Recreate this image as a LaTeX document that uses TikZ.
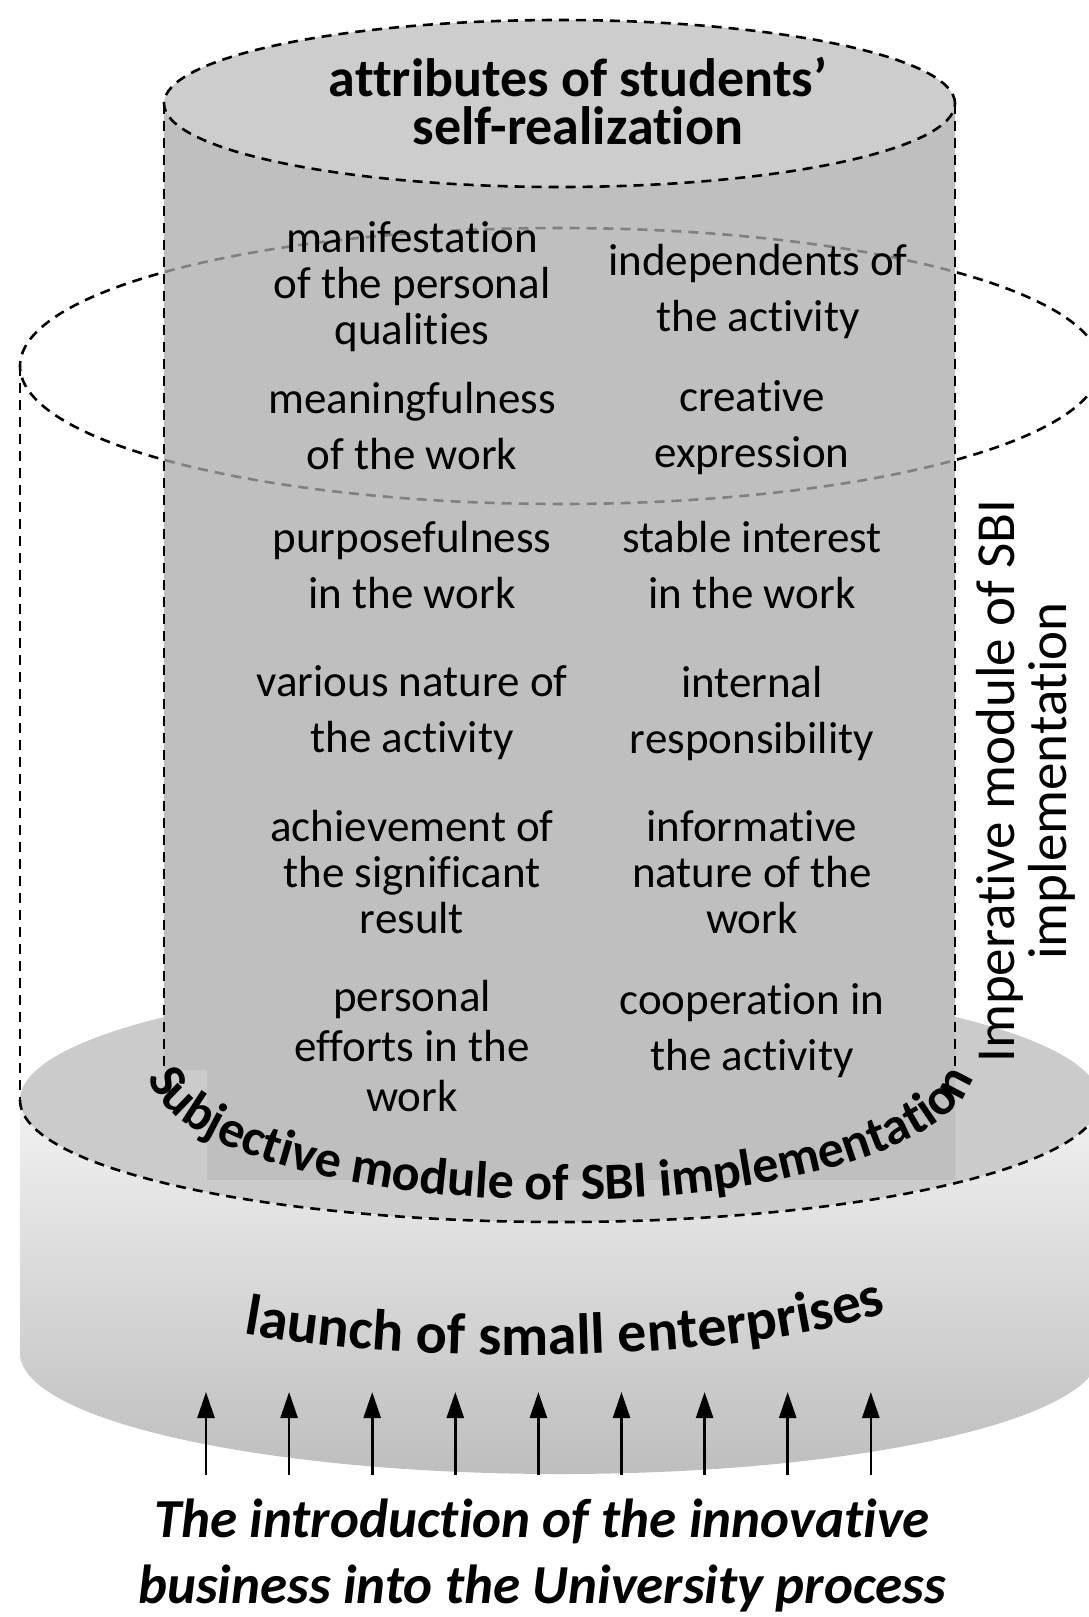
\documentclass[tikz,border=0pt]{standalone}
\usepackage{fontspec}
\setmainfont{Carlito}[Ligatures={NoCommon,NoContextual}]
\usetikzlibrary{arrows.meta,decorations.text}

\definecolor{bodygray}{HTML}{BFBFBF}
\definecolor{capgray}{HTML}{CDCDCD}
\definecolor{facegray}{HTML}{CBCBCB}
\definecolor{sidetop}{HTML}{F2F2F2}
\definecolor{sidebot}{HTML}{BEBEBE}

\tikzset{
  rim/.style={dash pattern=on 10pt off 7pt, line width=2.6pt},
  item/.style={align=center, inner sep=0pt, font=\fontsize{45}{46}\selectfont},
  pair/.style={item, font=\fontsize{45}{56}\selectfont},
  flow/.style={line width=2.6pt, -{Triangle[length=26pt,width=17pt]}}
}

\begin{document}
\begin{tikzpicture}[x=1pt,y=1pt]
  \useasboundingbox (0,0) rectangle (1089,-1617);
  \clip (0,0) rectangle (1089,-1617);

  % base disc
  \fill[facegray] (560,-1100) ellipse[x radius=540, y radius=122];
  \shade[top color=sidetop, bottom color=sidebot]
    (20,-1100) -- (20,-1353) arc[start angle=180, end angle=360, x radius=540, y radius=121]
    -- (1100,-1100) arc[start angle=360, end angle=180, x radius=540, y radius=122] -- cycle;

  % outer cylinder
  \draw[rim] (20,-366) -- (20,-1100);
  \draw[rim] (560,-366) ellipse[x radius=540, y radius=138];

  % inner cylinder
  \fill[bodygray] (164,-103.5) -- (955,-103.5) -- (955,-1180) -- (207,-1180)
    -- (207,-1070) -- (164,-1070) -- cycle;
  \begin{scope}
    \clip (164,-103.5) rectangle (955,-1070);
    \draw[rim, black!50] (560,-366) ellipse[x radius=540, y radius=138];
  \end{scope}
  \draw[rim] (20,-1100) arc[start angle=180, end angle=360, x radius=540, y radius=122];
  \draw[rim, fill=capgray] (559.5,-103.5) ellipse[x radius=395.5, y radius=83.5];
  \draw[rim] (164,-103.5) -- (164,-1070);
  \draw[rim] (955,-103.5) -- (955,-1070);

  % curved labels
  \path[decorate, decoration={text along path, text align=center,
    text={|\fontsize{52}{52}\selectfont\bfseries|Subjective module of SBI implementation}}]
    (148,-1068) arc[start angle=180, end angle=360, x radius=413, y radius=132];
  \path[decorate, decoration={text along path, text align=center,
    text={|\fontsize{58}{58}\selectfont\bfseries|launch of small enterprises}}]
    (522,-1268) ++(222:425 and 87) arc[start angle=222, end angle=340, x radius=425, y radius=87];

  \node[align=center, font=\fontsize{54}{48.5}\selectfont\bfseries] (title) at (578,-101)
    {attributes of students’\\self-realization};

  \node[item] (manif) at (412,-287) {manifestation\\of the personal\\qualities};
  \node[pair] (indep) at (758,-291) {independents of\\the activity};
  \node[pair] (meaning) at (412,-426) {meaningfulness\\of the work};
  \node[pair] (creative) at (752,-428) {creative\\expression};
  \node[pair] (purpose) at (412,-565) {purposefulness\\in the work};
  \node[pair] (interest) at (752,-565) {stable interest\\in the work};
  \node[pair] (various) at (412,-713) {various nature of\\the activity};
  \node[pair] (respons) at (752,-713) {internal\\responsibility};
  \node[item] (achieve) at (412,-872) {achievement of\\the significant\\result};
  \node[item] (inform) at (752,-872) {informative\\nature of the\\work};
  \node[item, font=\fontsize{45}{50}\selectfont] (efforts) at (412,-1046) {personal\\efforts in the\\work};
  \node[pair] (coop) at (752,-1031) {cooperation in\\the activity};

  \node[rotate=90, align=center, font=\fontsize{55}{52}\selectfont] (imper) at (1026,-781)
    {Imperative module of SBI\\implementation};

  \node[align=center, font=\fontsize{55}{66}\selectfont\bfseries\itshape] (intro) at (542,-1556)
    {The introduction of the innovative\\business into the University process};

  \foreach \k in {0,...,8}{
    \coordinate (src\k) at ({206+83.1*\k},-1475);
    \coordinate (dst\k) at ({206+83.1*\k},-1392);
    \draw[flow] (src\k) -- (dst\k);
  }
\end{tikzpicture}
\end{document}
